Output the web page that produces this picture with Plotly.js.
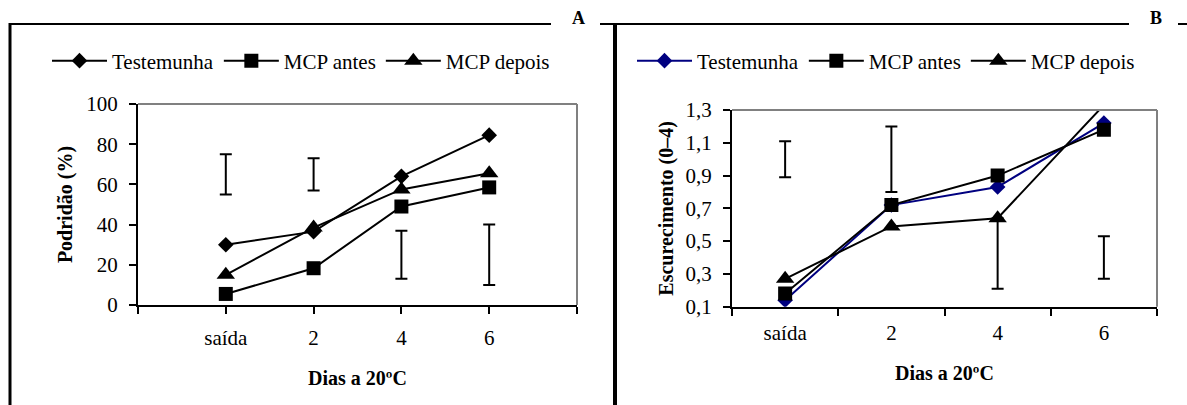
<!DOCTYPE html>
<html>
<head>
<meta charset="utf-8">
<script src="https://cdn.plot.ly/plotly-3.0.1.min.js"></script>
<style>html,body{margin:0;padding:0;background:#fff;}#chart{width:1187px;height:405px;}</style>
</head>
<body>
<div id="chart"></div>
<script>
// ---- data ----
const categories = ['saída', '2', '4', '6'];
const seriesNames = ['Testemunha', 'MCP antes', 'MCP depois'];

// Panel A: Podridão (%)
const podTestemunha = [30, 36.5, 64, 84.5];
const podMcpAntes   = [5.5, 18.3, 49, 58.5];
const podMcpDepois  = [15, 38.5, 57.5, 65.5];
const podBarLow     = [55, 57, 13, 10];
const podBarHigh    = [75, 73, 37, 40];

// Panel B: Escurecimento (0-4)
const escTestemunha = [0.14, 0.72, 0.83, 1.22];
const escMcpAntes   = [0.18, 0.72, 0.90, 1.18];
const escMcpDepois  = [0.27, 0.59, 0.64, 1.33];
const escBarLow     = [0.89, 0.80, 0.21, 0.27];
const escBarHigh    = [1.11, 1.20, 0.64, 0.53];

const yTickValsA = [0, 20, 40, 60, 80, 100];
const yTickValsB = [0.1, 0.3, 0.5, 0.7, 0.9, 1.1, 1.3];
const yTickTextB = ['0,1', '0,3', '0,5', '0,7', '0,9', '1,1', '1,3'];

// ---- layout helpers ----
const W = 1187, H = 405;
const px = v => v / W;
const py = v => 1 - v / H;
const FONT = "'Liberation Serif', 'Times New Roman', serif";

const xA = categories.map((c, i) => i + 1);
const mid = (lo, hi) => lo.map((l, i) => (l + hi[i]) / 2);
const half = (lo, hi) => lo.map((l, i) => (hi[i] - l) / 2);

const symbols = ['diamond', 'square', 'triangle-up'];
const sizes = [12, 14, 16];

function lineTrace(x, y, name, i, xa, ya, legend, color) {
  return {
    type: 'scatter', mode: 'lines+markers', x: x, y: y, name: name,
    xaxis: xa, yaxis: ya, legend: legend,
    line: {color: color, width: 2},
    marker: {symbol: symbols[i], size: sizes[i], color: color},
    hoverinfo: 'skip'
  };
}
function barTrace(x, lo, hi, xa, ya) {
  return {
    type: 'scatter', mode: 'markers', x: x, y: mid(lo, hi), xaxis: xa, yaxis: ya,
    showlegend: false, marker: {size: 1, opacity: 0},
    error_y: {type: 'data', array: half(lo, hi), symmetric: true, color: '#000', thickness: 2, width: 6},
    hoverinfo: 'skip'
  };
}

const data = [
  lineTrace(xA, podTestemunha, seriesNames[0], 0, 'x', 'y', 'legend', '#000'),
  lineTrace(xA, podMcpAntes, seriesNames[1], 1, 'x', 'y', 'legend', '#000'),
  lineTrace(xA, podMcpDepois, seriesNames[2], 2, 'x', 'y', 'legend', '#000'),
  barTrace(xA, podBarLow, podBarHigh, 'x', 'y'),
  lineTrace(categories, escTestemunha, seriesNames[0], 0, 'x2', 'y2', 'legend2', '#000080'),
  lineTrace(categories, escMcpAntes, seriesNames[1], 1, 'x2', 'y2', 'legend2', '#000'),
  lineTrace(categories, escMcpDepois, seriesNames[2], 2, 'x2', 'y2', 'legend2', '#000'),
  barTrace(categories, escBarLow, escBarHigh, 'x2', 'y2')
];

const tickFont = {family: FONT, size: 21, color: '#000'};
const titleFont = {family: FONT, size: 20, color: '#000', weight: 700};

const axisCommon = {
  showgrid: false, zeroline: false, showline: true, linecolor: '#000', linewidth: 2,
  ticks: 'outside', ticklen: 7, tickwidth: 2, tickcolor: '#000', tickfont: tickFont,
  fixedrange: true
};

const legendCommon = {
  orientation: 'h', xanchor: 'left', yanchor: 'middle',
  font: {family: FONT, size: 21, color: '#000'}, itemwidth: 55,
  bgcolor: 'rgba(0,0,0,0)', borderwidth: 0, itemclick: false, itemdoubleclick: false
};

const layout = {
  width: W, height: H,
  margin: {l: 0, r: 0, t: 0, b: 0, pad: 0},
  paper_bgcolor: '#fff', plot_bgcolor: 'rgba(0,0,0,0)',
  showlegend: true,
  xaxis: Object.assign({}, axisCommon, {
    domain: [px(138), px(577)], anchor: 'y', range: [0, 5],
    tickvals: [0, 1, 2, 3, 4, 5], ticktext: [''].concat(categories, ['']),
    ticklabelstandoff: 6,
    title: {text: 'Dias a 20ºC', font: titleFont, standoff: 22}
  }),
  yaxis: Object.assign({}, axisCommon, {
    domain: [py(305), py(104)], anchor: 'x', range: [0, 100],
    tickvals: yTickValsA, ticklabelstandoff: 7,
    title: {text: 'Podridão (%)', font: titleFont, standoff: 8}
  }),
  xaxis2: Object.assign({}, axisCommon, {
    domain: [px(732), px(1157)], anchor: 'y2', type: 'category',
    categoryorder: 'array', categoryarray: categories, range: [-0.5, 3.5],
    tickson: 'boundaries', ticklabelstandoff: 6,
    title: {text: 'Dias a 20ºC', font: titleFont, standoff: 22}
  }),
  yaxis2: Object.assign({}, axisCommon, {
    domain: [py(306.7), py(110)], anchor: 'x2', range: [0.1, 1.3],
    tickvals: yTickValsB, ticktext: yTickTextB, ticklabelstandoff: 7,
    title: {text: 'Escurecimento (0–4)', font: titleFont, standoff: 7}
  }),
  legend: Object.assign({}, legendCommon, {x: px(47), y: py(61)}),
  legend2: Object.assign({}, legendCommon, {x: px(632), y: py(61)}),
  shapes: [
    // plot area borders (top/right, grey)
    {type: 'line', xref: 'x domain', yref: 'y domain', x0: 0, x1: 1, y0: 1, y1: 1, line: {color: '#808080', width: 2}},
    {type: 'line', xref: 'x domain', yref: 'y domain', x0: 1, x1: 1, y0: 0, y1: 1, line: {color: '#808080', width: 2}},
    {type: 'line', xref: 'x2 domain', yref: 'y2 domain', x0: 0, x1: 1, y0: 1, y1: 1, line: {color: '#808080', width: 2}},
    {type: 'line', xref: 'x2 domain', yref: 'y2 domain', x0: 1, x1: 1, y0: 0, y1: 1, line: {color: '#808080', width: 2}},
    // frames
    {type: 'line', xref: 'paper', yref: 'paper', x0: px(10), x1: px(551), y0: py(24), y1: py(24), line: {color: '#000', width: 2}},
    {type: 'line', xref: 'paper', yref: 'paper', x0: px(10), x1: px(10), y0: py(23), y1: py(406), line: {color: '#000', width: 3}},
    {type: 'line', xref: 'paper', yref: 'paper', x0: px(600), x1: px(1129), y0: py(24), y1: py(24), line: {color: '#000', width: 2}},
    {type: 'line', xref: 'paper', yref: 'paper', x0: px(1178), x1: px(1187), y0: py(24), y1: py(24), line: {color: '#000', width: 2}},
    {type: 'line', xref: 'paper', yref: 'paper', x0: px(615), x1: px(615), y0: py(23), y1: py(406), line: {color: '#000', width: 4}}
  ],
  annotations: [
    {text: 'A', xref: 'paper', yref: 'paper', x: px(578), y: py(18), xanchor: 'center', yanchor: 'middle', showarrow: false,
     font: {family: FONT, size: 18, color: '#000', weight: 700}},
    {text: 'B', xref: 'paper', yref: 'paper', x: px(1156), y: py(18), xanchor: 'center', yanchor: 'middle', showarrow: false,
     font: {family: FONT, size: 18, color: '#000', weight: 700}}
  ]
};

Plotly.newPlot('chart', data, layout, {displayModeBar: false, staticPlot: true});
</script>
</body>
</html>
